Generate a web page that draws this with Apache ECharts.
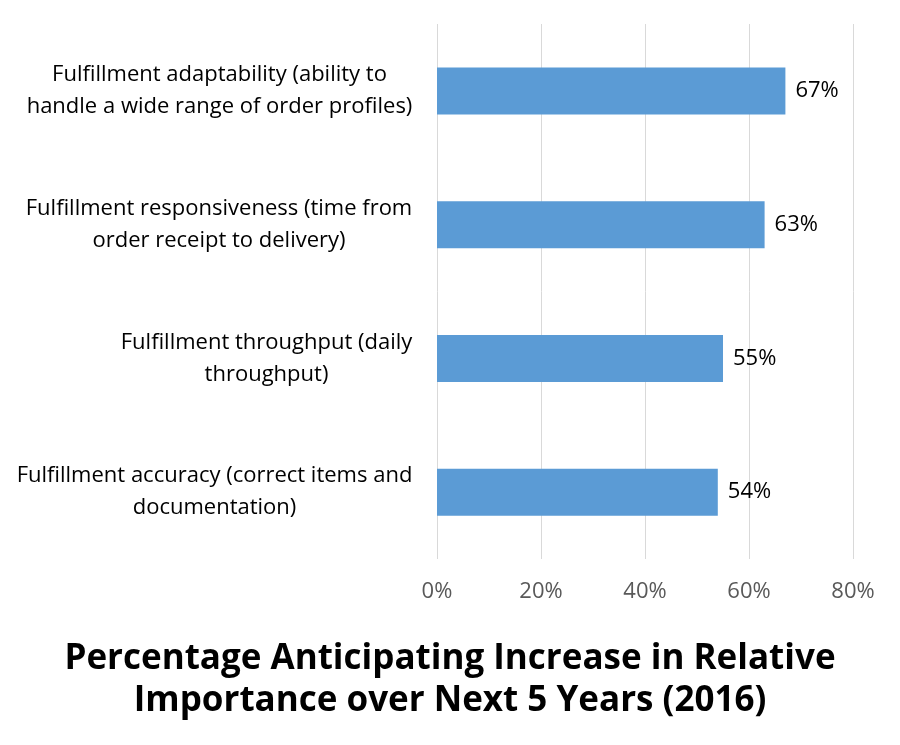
<!DOCTYPE html>
<html>
<head>
<meta charset="utf-8">
<script src="https://cdn.jsdelivr.net/npm/echarts@6/dist/echarts.min.js"></script>
<style>html,body{margin:0;padding:0;background:#fff;}#c{width:900px;height:745px;}</style>
</head>
<body>
<div id="c"></div>
<script>
var categories = [
  "Fulfillment adaptability (ability to\nhandle a wide range of order profiles)",
  "Fulfillment responsiveness (time from\norder receipt to delivery)",
  "Fulfillment throughput (daily\nthroughput)",
  "Fulfillment accuracy (correct items and\ndocumentation)"
];
var values = [67, 63, 55, 54];
var titleText = "Percentage Anticipating Increase in Relative\nImportance over Next 5 Years (2016)";

var LABEL_SIZE = 22;
var ctx = document.createElement('canvas').getContext('2d');
ctx.font = LABEL_SIZE + 'px "Open Sans"';
var rich = {};
categories.forEach(function (c, i) {
  var w = 0;
  c.split('\n').forEach(function (l) { w = Math.max(w, ctx.measureText(l).width); });
  rich['c' + i] = { width: Math.ceil(w) + 1, align: 'center', fontSize: LABEL_SIZE, fontFamily: 'Open Sans', color: '#000', lineHeight: 32 };
});

var chart = echarts.init(document.getElementById('c'));
chart.setOption({
  backgroundColor: '#fff',
  animation: false,
  title: {
    text: titleText,
    left: 'center',
    top: 633,
    textStyle: { fontFamily: 'Open Sans', fontWeight: 'bold', fontSize: 35, lineHeight: 42, color: '#000' }
  },
  grid: { left: 437, right: 47, top: 24, bottom: 186, containLabel: false },
  xAxis: {
    type: 'value', min: 0, max: 80, interval: 20,
    axisLine: { show: false }, axisTick: { show: false },
    splitLine: { lineStyle: { color: '#d9d9d9', width: 1 } },
    axisLabel: { formatter: '{value}%', color: '#595959', fontSize: 22, fontFamily: 'Open Sans', margin: 22 }
  },
  yAxis: {
    type: 'category', data: categories, inverse: true,
    axisLine: { show: false }, axisTick: { show: false },
    axisLabel: {
      margin: 24, align: 'right', rich: rich,
      formatter: function (v, i) {
        return v.split('\n').map(function (l) { return '{c' + i + '|' + l + '}'; }).join('\n');
      }
    }
  },
  series: [{
    type: 'bar', data: values, barWidth: 47,
    itemStyle: { color: '#5b9bd5' },
    label: { show: true, position: 'right', formatter: '{c}%', color: '#000', fontSize: 22, fontFamily: 'Open Sans', distance: 10 }
  }]
});
</script>
</body>
</html>
